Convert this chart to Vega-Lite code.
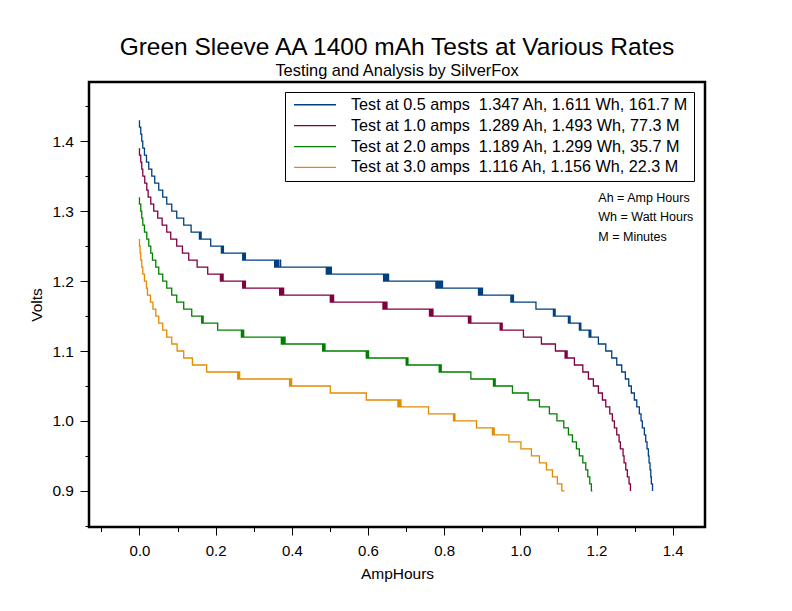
{
  "$schema": "https://vega.github.io/schema/vega-lite/v6.json",
  "width": 616,
  "height": 445,
  "autosize": {"type": "none"},
  "padding": {"left": 89, "top": 82, "right": 87, "bottom": 84},
  "background": "white",
  "config": {
    "font": "Liberation Sans",
    "view": {"stroke": "black", "strokeWidth": 2.5},
    "axis": {"domain": false, "grid": false, "tickColor": "black", "labelColor": "black", "titleColor": "black", "labelFont": "Liberation Sans", "titleFont": "Liberation Sans", "labelFontSize": 15, "titleFontSize": 15.5, "titleFontWeight": "normal", "tickWidth": 1}
  },
  "title": {
    "text": "Green Sleeve AA 1400 mAh Tests at Various Rates",
    "subtitle": "Testing and Analysis by SilverFox",
    "fontSize": 24.5, "fontWeight": "normal", "subtitleFontSize": 16.4,
    "font": "Liberation Sans", "subtitleFont": "Liberation Sans",
    "color": "black", "subtitleColor": "black",
    "anchor": "middle", "offset": 2, "subtitlePadding": 2
  },
  "layer": [
    {
      "data": {"values": [
        {"r":"0.5","ah":0,"v":1.43},{"r":"0.5","ah":0,"v":1.42},{"r":"0.5","ah":0.0034,"v":1.41},{"r":"0.5","ah":0.0060,"v":1.40},{"r":"0.5","ah":0.0087,"v":1.39},{"r":"0.5","ah":0.0131,"v":1.38},{"r":"0.5","ah":0.0184,"v":1.37},{"r":"0.5","ah":0.0244,"v":1.36},{"r":"0.5","ah":0.0323,"v":1.35},{"r":"0.5","ah":0.0401,"v":1.34},{"r":"0.5","ah":0.0506,"v":1.33},{"r":"0.5","ah":0.0611,"v":1.32},{"r":"0.5","ah":0.0716,"v":1.31},{"r":"0.5","ah":0.0847,"v":1.30},{"r":"0.5","ah":0.0978,"v":1.29},{"r":"0.5","ah":0.1162,"v":1.28},{"r":"0.5","ah":0.1356,"v":1.27},
        {"r":"0.5","ah":0.1574,"v":1.26},{"r":"0.5","ah":0.1597,"v":1.27},{"r":"0.5","ah":0.1619,"v":1.26},
        {"r":"0.5","ah":0.1870,"v":1.25},
        {"r":"0.5","ah":0.2151,"v":1.24},{"r":"0.5","ah":0.2164,"v":1.25},{"r":"0.5","ah":0.2178,"v":1.24},{"r":"0.5","ah":0.2191,"v":1.25},{"r":"0.5","ah":0.2204,"v":1.24},
        {"r":"0.5","ah":0.2710,"v":1.23},{"r":"0.5","ah":0.2728,"v":1.24},{"r":"0.5","ah":0.2746,"v":1.23},{"r":"0.5","ah":0.2763,"v":1.24},{"r":"0.5","ah":0.2781,"v":1.23},
        {"r":"0.5","ah":0.3549,"v":1.22},{"r":"0.5","ah":0.3567,"v":1.23},{"r":"0.5","ah":0.3584,"v":1.22},{"r":"0.5","ah":0.3602,"v":1.23},{"r":"0.5","ah":0.3619,"v":1.22},{"r":"0.5","ah":0.3637,"v":1.23},{"r":"0.5","ah":0.3654,"v":1.22},{"r":"0.5","ah":0.3699,"v":1.23},{"r":"0.5","ah":0.3706,"v":1.22},
        {"r":"0.5","ah":0.4906,"v":1.21},{"r":"0.5","ah":0.4928,"v":1.22},{"r":"0.5","ah":0.4950,"v":1.21},{"r":"0.5","ah":0.4971,"v":1.22},{"r":"0.5","ah":0.4993,"v":1.21},{"r":"0.5","ah":0.5015,"v":1.22},{"r":"0.5","ah":0.5037,"v":1.21},
        {"r":"0.5","ah":0.6409,"v":1.20},{"r":"0.5","ah":0.6431,"v":1.21},{"r":"0.5","ah":0.6453,"v":1.20},{"r":"0.5","ah":0.6475,"v":1.21},{"r":"0.5","ah":0.6496,"v":1.20},{"r":"0.5","ah":0.6518,"v":1.21},{"r":"0.5","ah":0.6540,"v":1.20},
        {"r":"0.5","ah":0.7783,"v":1.19},{"r":"0.5","ah":0.7805,"v":1.20},{"r":"0.5","ah":0.7827,"v":1.19},{"r":"0.5","ah":0.7849,"v":1.20},{"r":"0.5","ah":0.7870,"v":1.19},{"r":"0.5","ah":0.7892,"v":1.20},{"r":"0.5","ah":0.7914,"v":1.19},{"r":"0.5","ah":0.7949,"v":1.20},{"r":"0.5","ah":0.7956,"v":1.19},
        {"r":"0.5","ah":0.8901,"v":1.18},{"r":"0.5","ah":0.8919,"v":1.19},{"r":"0.5","ah":0.8936,"v":1.18},{"r":"0.5","ah":0.8954,"v":1.19},{"r":"0.5","ah":0.8971,"v":1.18},{"r":"0.5","ah":0.8989,"v":1.19},{"r":"0.5","ah":0.9006,"v":1.18},
        {"r":"0.5","ah":0.9751,"v":1.17},{"r":"0.5","ah":0.9768,"v":1.18},{"r":"0.5","ah":0.9785,"v":1.17},{"r":"0.5","ah":0.9802,"v":1.18},{"r":"0.5","ah":0.9819,"v":1.17},
        {"r":"0.5","ah":1.0410,"v":1.16},
        {"r":"0.5","ah":1.0868,"v":1.15},{"r":"0.5","ah":1.0890,"v":1.16},{"r":"0.5","ah":1.0913,"v":1.15},
        {"r":"0.5","ah":1.1262,"v":1.14},{"r":"0.5","ah":1.1284,"v":1.15},{"r":"0.5","ah":1.1306,"v":1.14},
        {"r":"0.5","ah":1.1550,"v":1.13},{"r":"0.5","ah":1.1568,"v":1.14},{"r":"0.5","ah":1.1587,"v":1.13},
        {"r":"0.5","ah":1.1805,"v":1.12},{"r":"0.5","ah":1.1827,"v":1.13},{"r":"0.5","ah":1.1850,"v":1.12},
        {"r":"0.5","ah":1.2049,"v":1.11},{"r":"0.5","ah":1.2243,"v":1.10},{"r":"0.5","ah":1.2400,"v":1.09},{"r":"0.5","ah":1.2531,"v":1.08},{"r":"0.5","ah":1.2662,"v":1.07},{"r":"0.5","ah":1.2757,"v":1.06},{"r":"0.5","ah":1.2846,"v":1.05},{"r":"0.5","ah":1.2914,"v":1.04},{"r":"0.5","ah":1.2993,"v":1.03},{"r":"0.5","ah":1.3056,"v":1.02},{"r":"0.5","ah":1.3124,"v":1.01},{"r":"0.5","ah":1.3169,"v":1.00},{"r":"0.5","ah":1.3203,"v":0.99},{"r":"0.5","ah":1.3256,"v":0.98},{"r":"0.5","ah":1.3292,"v":0.97},{"r":"0.5","ah":1.3326,"v":0.96},{"r":"0.5","ah":1.3361,"v":0.95},{"r":"0.5","ah":1.3379,"v":0.94},{"r":"0.5","ah":1.3405,"v":0.93},{"r":"0.5","ah":1.3424,"v":0.92},{"r":"0.5","ah":1.3439,"v":0.91},{"r":"0.5","ah":1.347,"v":0.90},

        {"r":"1.0","ah":0,"v":1.39},{"r":"1.0","ah":0,"v":1.38},{"r":"1.0","ah":0.0034,"v":1.37},{"r":"1.0","ah":0.0060,"v":1.36},{"r":"1.0","ah":0.0087,"v":1.35},{"r":"1.0","ah":0.0139,"v":1.34},{"r":"1.0","ah":0.0192,"v":1.33},{"r":"1.0","ah":0.0228,"v":1.32},{"r":"1.0","ah":0.0297,"v":1.31},{"r":"1.0","ah":0.0375,"v":1.30},{"r":"1.0","ah":0.0480,"v":1.29},{"r":"1.0","ah":0.0595,"v":1.28},{"r":"1.0","ah":0.0716,"v":1.27},{"r":"1.0","ah":0.0821,"v":1.26},{"r":"1.0","ah":0.0978,"v":1.25},{"r":"1.0","ah":0.1128,"v":1.24},{"r":"1.0","ah":0.1293,"v":1.23},{"r":"1.0","ah":0.1514,"v":1.22},{"r":"1.0","ah":0.1792,"v":1.21},
        {"r":"1.0","ah":0.2125,"v":1.20},{"r":"1.0","ah":0.2143,"v":1.21},{"r":"1.0","ah":0.2161,"v":1.20},{"r":"1.0","ah":0.2178,"v":1.21},{"r":"1.0","ah":0.2196,"v":1.20},
        {"r":"1.0","ah":0.2710,"v":1.19},{"r":"1.0","ah":0.2728,"v":1.20},{"r":"1.0","ah":0.2746,"v":1.19},{"r":"1.0","ah":0.2763,"v":1.20},{"r":"1.0","ah":0.2781,"v":1.19},
        {"r":"1.0","ah":0.3680,"v":1.18},{"r":"1.0","ah":0.3698,"v":1.19},{"r":"1.0","ah":0.3715,"v":1.18},{"r":"1.0","ah":0.3733,"v":1.19},{"r":"1.0","ah":0.3750,"v":1.18},{"r":"1.0","ah":0.3768,"v":1.19},{"r":"1.0","ah":0.3785,"v":1.18},
        {"r":"1.0","ah":0.5010,"v":1.17},{"r":"1.0","ah":0.5032,"v":1.18},{"r":"1.0","ah":0.5054,"v":1.17},{"r":"1.0","ah":0.5075,"v":1.18},{"r":"1.0","ah":0.5097,"v":1.17},
        {"r":"1.0","ah":0.6393,"v":1.16},{"r":"1.0","ah":0.6411,"v":1.17},{"r":"1.0","ah":0.6428,"v":1.16},{"r":"1.0","ah":0.6446,"v":1.17},{"r":"1.0","ah":0.6463,"v":1.16},{"r":"1.0","ah":0.6481,"v":1.17},{"r":"1.0","ah":0.6498,"v":1.16},
        {"r":"1.0","ah":0.7615,"v":1.15},{"r":"1.0","ah":0.7638,"v":1.16},{"r":"1.0","ah":0.7660,"v":1.15},{"r":"1.0","ah":0.7683,"v":1.16},{"r":"1.0","ah":0.7705,"v":1.15},
        {"r":"1.0","ah":0.8638,"v":1.14},{"r":"1.0","ah":0.8654,"v":1.15},{"r":"1.0","ah":0.8670,"v":1.14},{"r":"1.0","ah":0.8685,"v":1.15},{"r":"1.0","ah":0.8701,"v":1.14},
        {"r":"1.0","ah":0.9470,"v":1.13},{"r":"1.0","ah":0.9483,"v":1.14},{"r":"1.0","ah":0.9497,"v":1.13},{"r":"1.0","ah":0.9510,"v":1.14},{"r":"1.0","ah":0.9523,"v":1.13},
        {"r":"1.0","ah":1.0081,"v":1.12},{"r":"1.0","ah":1.0553,"v":1.11},{"r":"1.0","ah":1.0921,"v":1.10},
        {"r":"1.0","ah":1.1175,"v":1.09},{"r":"1.0","ah":1.1188,"v":1.10},{"r":"1.0","ah":1.1202,"v":1.09},{"r":"1.0","ah":1.1215,"v":1.10},{"r":"1.0","ah":1.1228,"v":1.09},
        {"r":"1.0","ah":1.1419,"v":1.08},{"r":"1.0","ah":1.1640,"v":1.07},{"r":"1.0","ah":1.1787,"v":1.06},{"r":"1.0","ah":1.1918,"v":1.05},{"r":"1.0","ah":1.2049,"v":1.04},{"r":"1.0","ah":1.2154,"v":1.03},{"r":"1.0","ah":1.2243,"v":1.02},{"r":"1.0","ah":1.2348,"v":1.01},{"r":"1.0","ah":1.2416,"v":1.00},{"r":"1.0","ah":1.2469,"v":0.99},{"r":"1.0","ah":1.2531,"v":0.98},{"r":"1.0","ah":1.2592,"v":0.97},{"r":"1.0","ah":1.2626,"v":0.96},{"r":"1.0","ah":1.2697,"v":0.95},{"r":"1.0","ah":1.2723,"v":0.94},{"r":"1.0","ah":1.2768,"v":0.93},{"r":"1.0","ah":1.2809,"v":0.92},{"r":"1.0","ah":1.2854,"v":0.91},{"r":"1.0","ah":1.289,"v":0.90},

        {"r":"2.0","ah":0,"v":1.32},{"r":"2.0","ah":0,"v":1.31},{"r":"2.0","ah":0.0034,"v":1.30},{"r":"2.0","ah":0.0060,"v":1.29},{"r":"2.0","ah":0.0087,"v":1.28},{"r":"2.0","ah":0.0131,"v":1.27},{"r":"2.0","ah":0.0192,"v":1.26},{"r":"2.0","ah":0.0244,"v":1.25},{"r":"2.0","ah":0.0297,"v":1.24},{"r":"2.0","ah":0.0341,"v":1.23},{"r":"2.0","ah":0.0428,"v":1.22},{"r":"2.0","ah":0.0506,"v":1.21},{"r":"2.0","ah":0.0611,"v":1.20},{"r":"2.0","ah":0.0716,"v":1.19},{"r":"2.0","ah":0.0847,"v":1.18},{"r":"2.0","ah":0.0978,"v":1.17},{"r":"2.0","ah":0.1162,"v":1.16},{"r":"2.0","ah":0.1372,"v":1.15},
        {"r":"2.0","ah":0.1634,"v":1.14},{"r":"2.0","ah":0.1652,"v":1.15},{"r":"2.0","ah":0.1671,"v":1.14},
        {"r":"2.0","ah":0.2054,"v":1.13},
        {"r":"2.0","ah":0.2676,"v":1.12},{"r":"2.0","ah":0.2691,"v":1.13},{"r":"2.0","ah":0.2706,"v":1.12},{"r":"2.0","ah":0.2721,"v":1.13},{"r":"2.0","ah":0.2736,"v":1.12},
        {"r":"2.0","ah":0.3725,"v":1.11},{"r":"2.0","ah":0.3741,"v":1.12},{"r":"2.0","ah":0.3757,"v":1.11},{"r":"2.0","ah":0.3774,"v":1.12},{"r":"2.0","ah":0.3790,"v":1.11},{"r":"2.0","ah":0.3806,"v":1.12},{"r":"2.0","ah":0.3822,"v":1.11},
        {"r":"2.0","ah":0.4809,"v":1.10},{"r":"2.0","ah":0.4825,"v":1.11},{"r":"2.0","ah":0.4840,"v":1.10},{"r":"2.0","ah":0.4856,"v":1.11},{"r":"2.0","ah":0.4871,"v":1.10},
        {"r":"2.0","ah":0.5955,"v":1.09},{"r":"2.0","ah":0.5970,"v":1.10},{"r":"2.0","ah":0.5985,"v":1.09},{"r":"2.0","ah":0.6000,"v":1.10},{"r":"2.0","ah":0.6015,"v":1.09},
        {"r":"2.0","ah":0.7002,"v":1.08},{"r":"2.0","ah":0.7025,"v":1.09},{"r":"2.0","ah":0.7049,"v":1.08},
        {"r":"2.0","ah":0.7870,"v":1.07},{"r":"2.0","ah":0.7883,"v":1.08},{"r":"2.0","ah":0.7896,"v":1.07},{"r":"2.0","ah":0.7909,"v":1.08},{"r":"2.0","ah":0.7922,"v":1.07},
        {"r":"2.0","ah":0.8701,"v":1.06},
        {"r":"2.0","ah":0.9294,"v":1.05},{"r":"2.0","ah":0.9316,"v":1.06},{"r":"2.0","ah":0.9339,"v":1.05},
        {"r":"2.0","ah":0.9793,"v":1.04},{"r":"2.0","ah":1.0205,"v":1.03},{"r":"2.0","ah":1.0501,"v":1.02},{"r":"2.0","ah":1.0763,"v":1.01},{"r":"2.0","ah":1.0960,"v":1.00},{"r":"2.0","ah":1.1141,"v":0.99},{"r":"2.0","ah":1.1262,"v":0.98},{"r":"2.0","ah":1.1367,"v":0.97},{"r":"2.0","ah":1.1472,"v":0.96},{"r":"2.0","ah":1.1550,"v":0.95},{"r":"2.0","ah":1.1640,"v":0.94},{"r":"2.0","ah":1.1718,"v":0.93},{"r":"2.0","ah":1.1771,"v":0.92},{"r":"2.0","ah":1.1823,"v":0.91},{"r":"2.0","ah":1.1865,"v":0.90},{"r":"2.0","ah":1.189,"v":0.90},

        {"r":"3.0","ah":0,"v":1.26},{"r":"3.0","ah":0,"v":1.25},{"r":"3.0","ah":0.0017,"v":1.24},{"r":"3.0","ah":0.0034,"v":1.23},{"r":"3.0","ah":0.0060,"v":1.22},{"r":"3.0","ah":0.0087,"v":1.21},{"r":"3.0","ah":0.0131,"v":1.20},{"r":"3.0","ah":0.0184,"v":1.19},{"r":"3.0","ah":0.0210,"v":1.18},{"r":"3.0","ah":0.0289,"v":1.17},{"r":"3.0","ah":0.0354,"v":1.16},{"r":"3.0","ah":0.0428,"v":1.15},{"r":"3.0","ah":0.0506,"v":1.14},{"r":"3.0","ah":0.0611,"v":1.13},{"r":"3.0","ah":0.0716,"v":1.12},{"r":"3.0","ah":0.0847,"v":1.11},{"r":"3.0","ah":0.0989,"v":1.10},{"r":"3.0","ah":0.1162,"v":1.09},{"r":"3.0","ah":0.1390,"v":1.08},{"r":"3.0","ah":0.1765,"v":1.07},
        {"r":"3.0","ah":0.2579,"v":1.06},{"r":"3.0","ah":0.2592,"v":1.07},{"r":"3.0","ah":0.2605,"v":1.06},{"r":"3.0","ah":0.2618,"v":1.07},{"r":"3.0","ah":0.2631,"v":1.06},
        {"r":"3.0","ah":0.3943,"v":1.05},{"r":"3.0","ah":0.3956,"v":1.06},{"r":"3.0","ah":0.3969,"v":1.05},{"r":"3.0","ah":0.3982,"v":1.06},{"r":"3.0","ah":0.3995,"v":1.05},
        {"r":"3.0","ah":0.5010,"v":1.04},{"r":"3.0","ah":0.5955,"v":1.03},
        {"r":"3.0","ah":0.6786,"v":1.02},{"r":"3.0","ah":0.6806,"v":1.03},{"r":"3.0","ah":0.6826,"v":1.02},{"r":"3.0","ah":0.6845,"v":1.03},{"r":"3.0","ah":0.6865,"v":1.02},
        {"r":"3.0","ah":0.7589,"v":1.01},
        {"r":"3.0","ah":0.8245,"v":1.00},{"r":"3.0","ah":0.8264,"v":1.01},{"r":"3.0","ah":0.8282,"v":1.00},
        {"r":"3.0","ah":0.8848,"v":0.99},
        {"r":"3.0","ah":0.9268,"v":0.98},{"r":"3.0","ah":0.9290,"v":0.99},{"r":"3.0","ah":0.9313,"v":0.98},
        {"r":"3.0","ah":0.9700,"v":0.97},{"r":"3.0","ah":1.0016,"v":0.96},{"r":"3.0","ah":1.0291,"v":0.95},{"r":"3.0","ah":1.0501,"v":0.94},{"r":"3.0","ah":1.0685,"v":0.93},{"r":"3.0","ah":1.0842,"v":0.92},{"r":"3.0","ah":1.0973,"v":0.91},{"r":"3.0","ah":1.1090,"v":0.90},{"r":"3.0","ah":1.116,"v":0.90}
      ]},
      "mark": {"type": "line", "interpolate": "step-after", "strokeWidth": 1.3},
      "encoding": {
        "x": {
          "field": "ah", "type": "quantitative", "title": "AmpHours",
          "scale": {"domain": [-0.1325, 1.4848], "nice": false, "zero": false},
          "axis": {
            "values": [-0.1, 0, 0.1, 0.2, 0.3, 0.4, 0.5, 0.6, 0.7, 0.8, 0.9, 1.0, 1.1, 1.2, 1.3, 1.4],
            "tickCount": 40,
            "labelExpr": "abs(round(datum.value*10)) % 2 == 0 ? format(datum.value, '.1f') : ''",
            "tickSize": 8,
            "tickDash": {"condition": {"test": "abs(round(datum.value*10)) % 2 == 1", "value": [4.5, 20]}, "value": [20, 0]},
            "labelPadding": 8, "titlePadding": 8, "labelOverlap": false, "labelFlush": false
          }
        },
        "y": {
          "field": "v", "type": "quantitative", "title": "Volts",
          "scale": {"domain": [0.8484, 1.4846], "nice": false, "zero": false},
          "axis": {
            "values": [0.85, 0.9, 0.95, 1.0, 1.05, 1.1, 1.15, 1.2, 1.25, 1.3, 1.35, 1.4, 1.45],
            "tickCount": 40,
            "labelExpr": "round(datum.value*100) % 10 == 0 ? format(datum.value, '.1f') : ''",
            "labelFontSize": 15.5,
            "tickSize": 9,
            "tickDash": {"condition": {"test": "round(datum.value*100) % 10 != 0", "value": [4, 20]}, "value": [20, 0]},
            "labelPadding": 6.5, "titlePadding": 7, "labelOverlap": false, "labelFlush": false
          }
        },
        "color": {
          "field": "r", "type": "nominal",
          "scale": {"domain": ["0.5", "1.0", "2.0", "3.0"], "range": ["#004080", "#800040", "#008000", "#E38A00"]},
          "legend": {
            "orient": "none", "legendX": 196, "legendY": 10, "title": null,
            "symbolType": "stroke", "symbolSize": 1764, "symbolStrokeWidth": 1.3,
            "labelFontSize": 16.2, "labelFont": "Liberation Sans", "labelColor": "black",
            "labelOffset": 14, "labelLimit": 0, "strokeColor": "black", "fillColor": "white",
            "padding": 5, "symbolOffset": 3, "clipHeight": 15.5, "rowPadding": 3.9,
            "labelExpr": "{'0.5': 'Test at 0.5 amps\u00a0 1.347 Ah, 1.611 Wh, 161.7 M', '1.0': 'Test at 1.0 amps\u00a0 1.289 Ah, 1.493 Wh, 77.3 M', '2.0': 'Test at 2.0 amps\u00a0 1.189 Ah, 1.299 Wh, 35.7 M', '3.0': 'Test at 3.0 amps\u00a0 1.116 Ah, 1.156 Wh, 22.3 M'}[datum.label]"
          }
        },
        "order": {"value": null}
      }
    },
    {
      "data": {"values": [{}]},
      "mark": {"type": "text", "text": ["Ah = Amp Hours", "Wh = Watt Hours", "M = Minutes"], "align": "left", "baseline": "top", "fontSize": 12.5, "lineHeight": 19.2, "font": "Liberation Sans", "color": "black"},
      "encoding": {"x": {"datum": 1.2047}, "y": {"datum": 1.327}}
    }
  ]
}
